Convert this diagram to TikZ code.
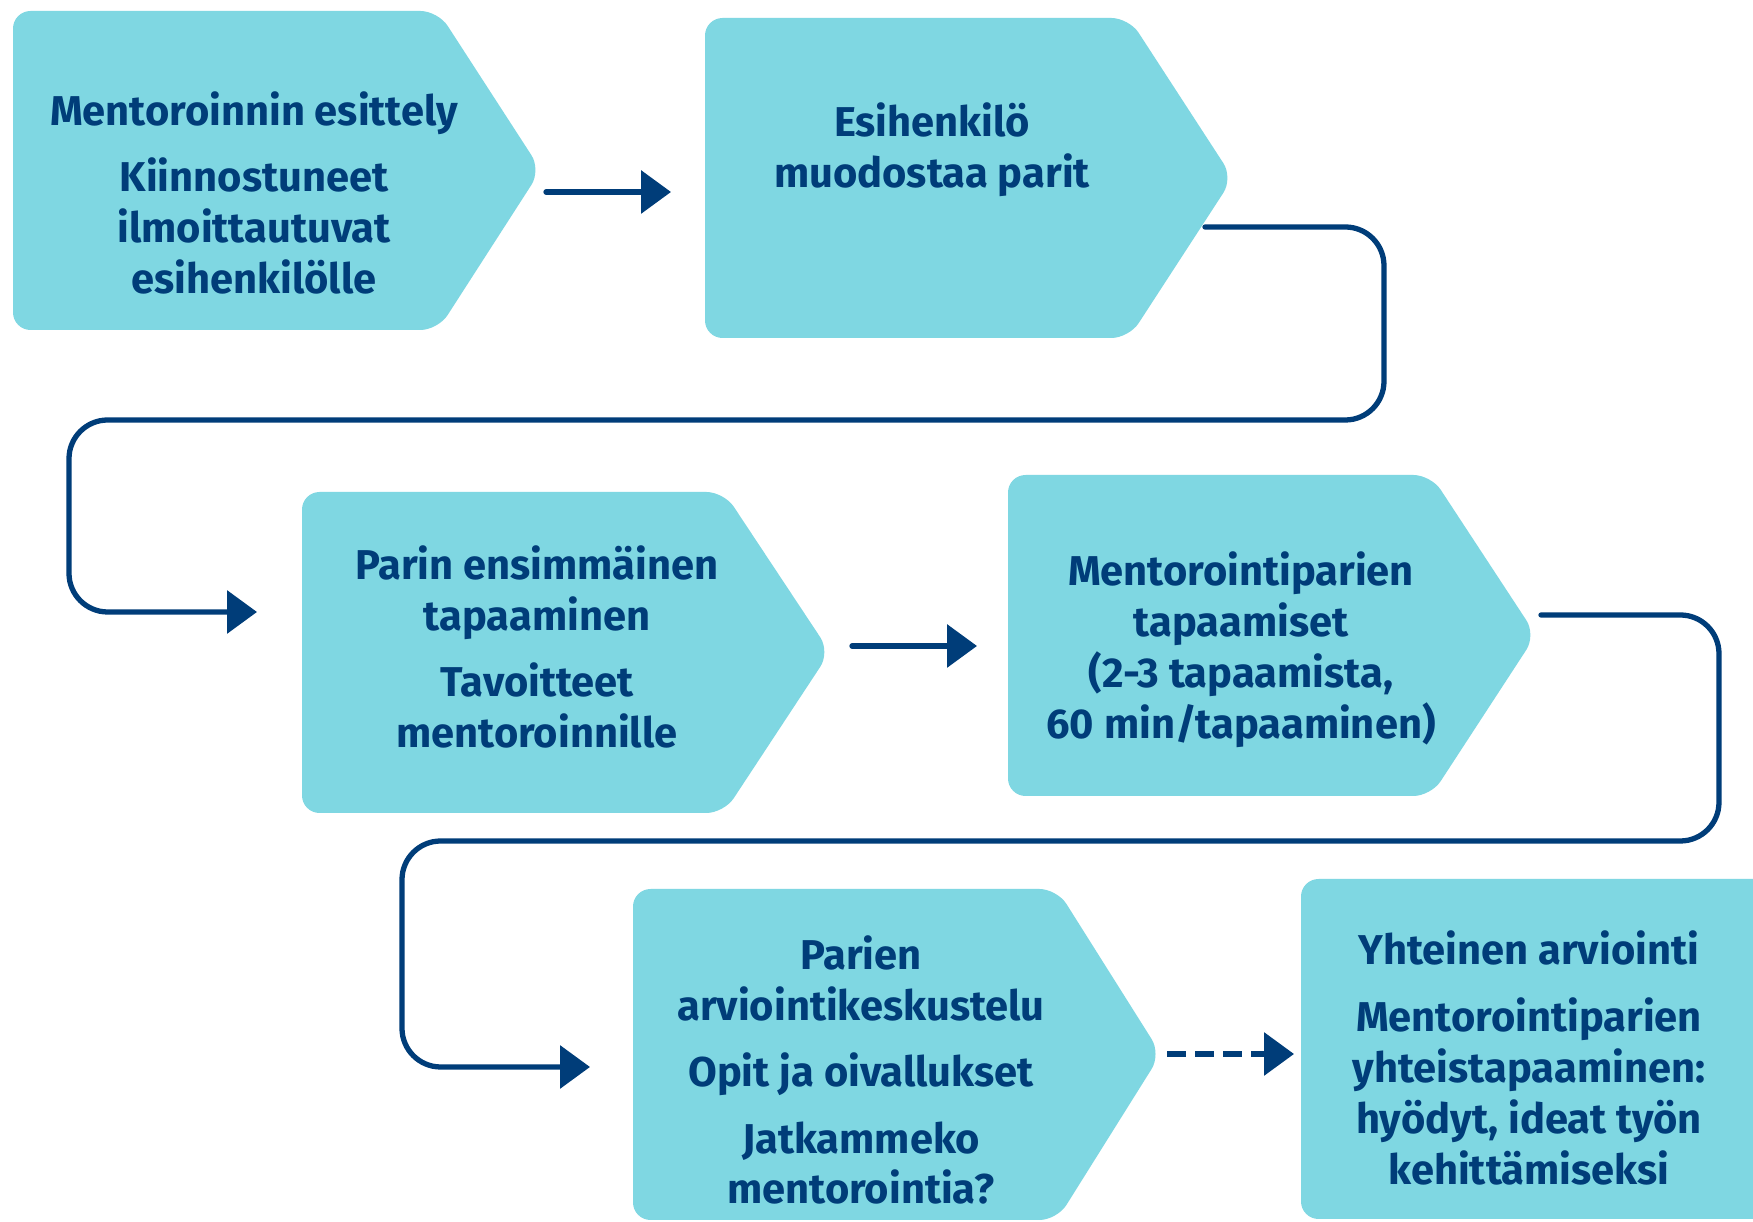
\documentclass[tikz,border=0pt]{standalone}
\usepackage{fontspec}
\setmainfont{Fira Sans}
\usepackage{tikz}
\usetikzlibrary{arrows.meta,calc}

\definecolor{stepcyan}{RGB}{127,215,226}
\definecolor{stepnavy}{RGB}{0,61,121}

\tikzset{
  stepfill/.style={fill=stepcyan,rounded corners=5pt},
  steptext/.style={align=center,text=stepnavy,font=\fontsize{11.85}{14.5}\selectfont\bfseries},
  flow/.style={draw=stepnavy,line width=1.5pt,line cap=round,-{Triangle[length=8.5pt,width=12pt]}},
}

\begin{document}
\begin{tikzpicture}[x=0.01cm,y=-0.01cm]
\clip (0,0) rectangle (1753,1222);
\fill[white] (0,0) rectangle (1753,1222);

% the steps
\fill[stepfill] (13,11) -- (438,11) -- (541,170) -- (438,330) -- (13,330) -- cycle;
\fill[stepfill] (705,18) -- (1129,18) -- (1233,178) -- (1129,338) -- (705,338) -- cycle;
\fill[stepfill] (302,492) -- (724,492) -- (830,652) -- (724,813) -- (302,813) -- cycle;
\fill[stepfill] (1008,475) -- (1431,475) -- (1536,635) -- (1431,796) -- (1008,796) -- cycle;
\fill[stepfill] (633,889) -- (1057,889) -- (1161,1054) -- (1057,1220) -- (633,1220) -- cycle;
\fill[stepfill] (1301,879) rectangle (1790,1219);

\node[steptext] (esittely) at (254,193) {Mentoroinnin esittely\\[4.4pt]Kiinnostuneet\\ilmoittautuvat\\esihenkilölle};
\node[steptext] (parit) at (932,150) {Esihenkilö\\muodostaa parit};
\node[steptext] (ensim) at (537,647) {Parin ensimmäinen\\tapaaminen\\[4.4pt]Tavoitteet\\mentoroinnille};
\node[steptext] (tapaamiset) at (1241,650) {Mentorointiparien\\tapaamiset\\(2-3 tapaamista,\\60 min/tapaaminen)};
\node[steptext] (arvkesk) at (861,1070) {Parien\\arviointikeskustelu\\[4.4pt]Opit ja oivallukset\\[4.4pt]Jatkammeko\\mentorointia?};
\node[steptext] (yhteinen) at (1529,1058) {Yhteinen arviointi\\[4.4pt]Mentorointiparien\\yhteistapaaminen:\\hyödyt, ideat työn\\kehittämiseksi};

% connectors
\coordinate (out1) at (546,192);
\coordinate (in2) at (671,192);
\coordinate (out2) at (1205,227);
\coordinate (r2) at (1384,420);
\coordinate (l2) at (69,420);
\coordinate (in3) at (257,612);
\coordinate (out3) at (852,646);
\coordinate (in4) at (977,646);
\coordinate (out4) at (1541,615);
\coordinate (r4) at (1719,841);
\coordinate (l4) at (402,841);
\coordinate (in5) at (590,1067);
\coordinate (out5) at (1167,1054);
\coordinate (in6) at (1294,1054);

\draw[flow] (out1) -- (in2);
\draw[flow,rounded corners=11pt] (out2) -| (r2) -- (l2) |- (in3);
\draw[flow] (out3) -- (in4);
\draw[flow,rounded corners=11pt] (out4) -| (r4) -- (l4) |- (in5);
\draw[flow,line cap=butt,dash pattern=on 5.4pt off 2.6pt] (out5) -- (in6);
\end{tikzpicture}
\end{document}
